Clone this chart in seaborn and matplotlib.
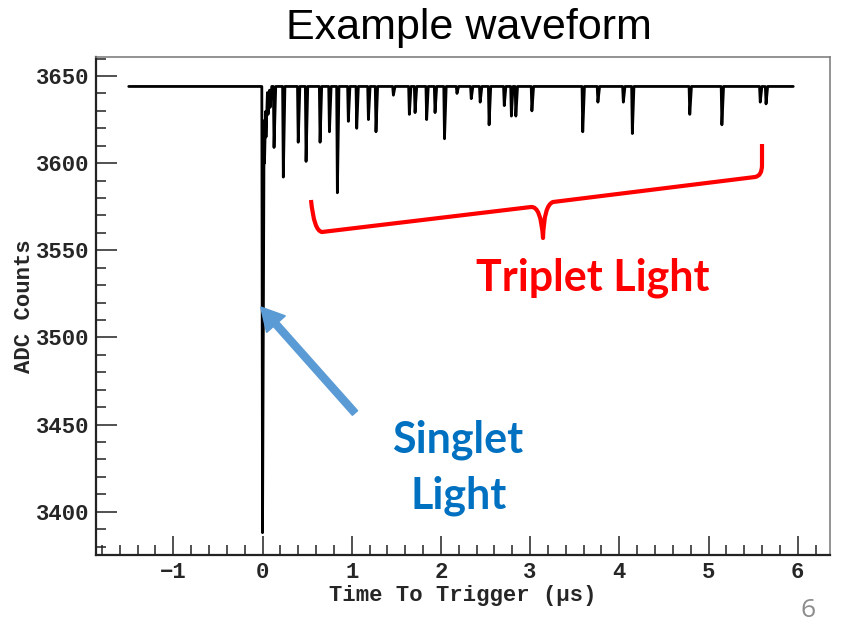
import numpy as np
import matplotlib
matplotlib.use("Agg")
import matplotlib.pyplot as plt
from matplotlib.path import Path
from matplotlib.patches import PathPatch, FancyArrow
from matplotlib.transforms import Affine2D
from matplotlib.ticker import MultipleLocator
import seaborn as sns

# ---- waveform description -------------------------------------------------
# pedestal level (ADC counts) and recorded span of the trace (µs)
baseline_adc = 3644
trace_start = -1.5
trace_end = 5.95

# prompt (singlet) pulse
singlet_time = 0.0
singlet_min = 3388

# delayed (triplet) single-photon pulses: arrival time (µs) and minimum ADC
pulse_times = [0.022, 0.039, 0.062, 0.085, 0.129, 0.233, 0.40, 0.488, 0.645,
               0.75, 0.839, 0.962, 1.056, 1.187, 1.272, 1.467, 1.646, 1.71,
               1.84, 1.934, 2.04, 2.18, 2.34, 2.44, 2.54, 2.71, 2.79, 2.84,
               3.02, 3.59, 3.76, 4.045, 4.146, 4.79, 5.15, 5.58, 5.645]
pulse_minima = [3600, 3615, 3628, 3632, 3609, 3592, 3612, 3601, 3612,
                3618, 3583, 3624, 3620, 3625, 3618, 3639, 3628, 3629,
                3625, 3629, 3614, 3640, 3637, 3635, 3622, 3633, 3627, 3627,
                3630, 3618, 3635, 3635, 3617, 3628, 3622, 3635, 3634]

x_ticks = [-1, 0, 1, 2, 3, 4, 5, 6]
y_ticks = [3400, 3450, 3500, 3550, 3600, 3650]

# ---- build the sampled trace (each pulse is a sharp fall + slower recovery)
rise, fall = 0.008, 0.018
all_times = np.array([singlet_time] + pulse_times)
all_minima = np.array([singlet_min] + pulse_minima, dtype=float)
knots = np.concatenate([all_times - rise, all_times, all_times + fall])
t = np.union1d(np.linspace(trace_start, trace_end, 6000), knots)
adc = np.full_like(t, float(baseline_adc))
for tp, m in zip(all_times, all_minima):
    shape = np.interp(t, [tp - rise, tp, tp + fall],
                      [baseline_adc, m, baseline_adc])
    adc = np.minimum(adc, shape)

# ---- figure ----------------------------------------------------------------
W, H, DPI = 843, 623, 100
sns.set_theme(style="white")
plt.rcParams["font.family"] = ["Liberation Sans", "DejaVu Sans"]

fig = plt.figure(figsize=(W / DPI, H / DPI), dpi=DPI)
fig.patch.set_facecolor("white")

# axes frame in pixel units: left 96, right 830, top 57, bottom 555
ax = fig.add_axes([96 / W, (H - 555) / H, (830 - 96) / W, (555 - 57) / H])
ax.set_facecolor("white")

sns.lineplot(x=t, y=adc, ax=ax, color="black", linewidth=2.0,
             estimator=None, sort=False)

ax.set_xlim(-1.867, 6.362)
ax.set_ylim(3375.2, 3660.9)
ax.set_xticks(x_ticks)
ax.set_yticks(y_ticks)
ax.xaxis.set_minor_locator(MultipleLocator(0.2))
ax.yaxis.set_minor_locator(MultipleLocator(10))

mono = dict(family="Liberation Mono", weight="bold")
ax.set_xticklabels([("\u2212" + str(-v)) if v < 0 else str(v) for v in x_ticks],
                   fontsize=16, **mono)
ax.set_yticklabels([str(v) for v in y_ticks], fontsize=16, **mono)

ax.tick_params(axis="both", which="both", direction="in", bottom=True,
               left=True, top=False, right=False, color="#222222", width=1.1)
ax.tick_params(axis="y", which="major", length=15, pad=4.5)
ax.tick_params(axis="y", which="minor", length=7.5)
ax.tick_params(axis="x", which="major", length=13.5, pad=5)
ax.tick_params(axis="x", which="minor", length=7)

for side in ("left", "bottom"):
    ax.spines[side].set_color("#222222")
    ax.spines[side].set_linewidth(1.6)
for side in ("top", "right"):
    ax.spines[side].set_color("#808080")
    ax.spines[side].set_linewidth(1.2)

ax.set_xlabel("Time To Trigger (\u00b5s)", fontsize=16, **mono)
ax.xaxis.label.set_va("center")
ax.xaxis.set_label_coords(0.5, -0.082)
ax.set_ylabel("ADC Counts", fontsize=16, **mono)
ax.yaxis.label.set_va("center")
ax.yaxis.set_label_coords(-0.097, 0.5)

# ---- annotations in pixel coordinates (origin top-left) ---------------------
px = Affine2D().scale(1.0, -1.0).translate(0, H).scale(1.0 / DPI) + fig.dpi_scale_trans

fig.text(469, 39, "Example waveform", transform=px, ha="center",
         va="baseline", fontsize=31, color="black",
         family=["Liberation Sans", "DejaVu Sans"])

fig.text(593, 290, "Triplet Light", transform=px, ha="center",
         va="baseline", fontsize=31, color="#FF0000", weight="bold",
         family=["Lato", "Open Sans", "DejaVu Sans"])
fig.text(458, 453, "Singlet", transform=px, ha="center", va="baseline",
         fontsize=31, color="#0070C0", weight="bold",
         family=["Lato", "Open Sans", "DejaVu Sans"])
fig.text(459, 509, "Light", transform=px, ha="center", va="baseline",
         fontsize=31, color="#0070C0", weight="bold",
         family=["Lato", "Open Sans", "DejaVu Sans"])

fig.text(808, 617, "6", transform=px, ha="center", va="baseline",
         fontsize=19, color="#8C8C8C",
         family=["Open Sans", "DejaVu Sans"])

# arrow pointing at the prompt pulse
arrow = FancyArrow(355, 413, 260.7 - 355, 307 - 413, width=7,
                   head_width=25, head_length=23, length_includes_head=True,
                   color="#5B9BD5", transform=px)
fig.add_artist(arrow)

# curly brace spanning the delayed pulses
verts = [(311, 200),
         (314, 231), (322, 232),
         (531, 207),
         (541, 206), (543, 238),
         (544, 205), (553, 202),
         (755, 177),
         (762, 176), (762, 165),
         (762, 144)]
codes = [Path.MOVETO,
         Path.CURVE3, Path.CURVE3,
         Path.LINETO,
         Path.CURVE3, Path.CURVE3,
         Path.CURVE3, Path.CURVE3,
         Path.LINETO,
         Path.CURVE3, Path.CURVE3,
         Path.LINETO]
brace = PathPatch(Path(verts, codes), facecolor="none", edgecolor="#FF0000",
                  linewidth=3.0, capstyle="butt", joinstyle="round",
                  transform=px)
fig.add_artist(brace)

fig.savefig("out.png", dpi=DPI, facecolor="white")
